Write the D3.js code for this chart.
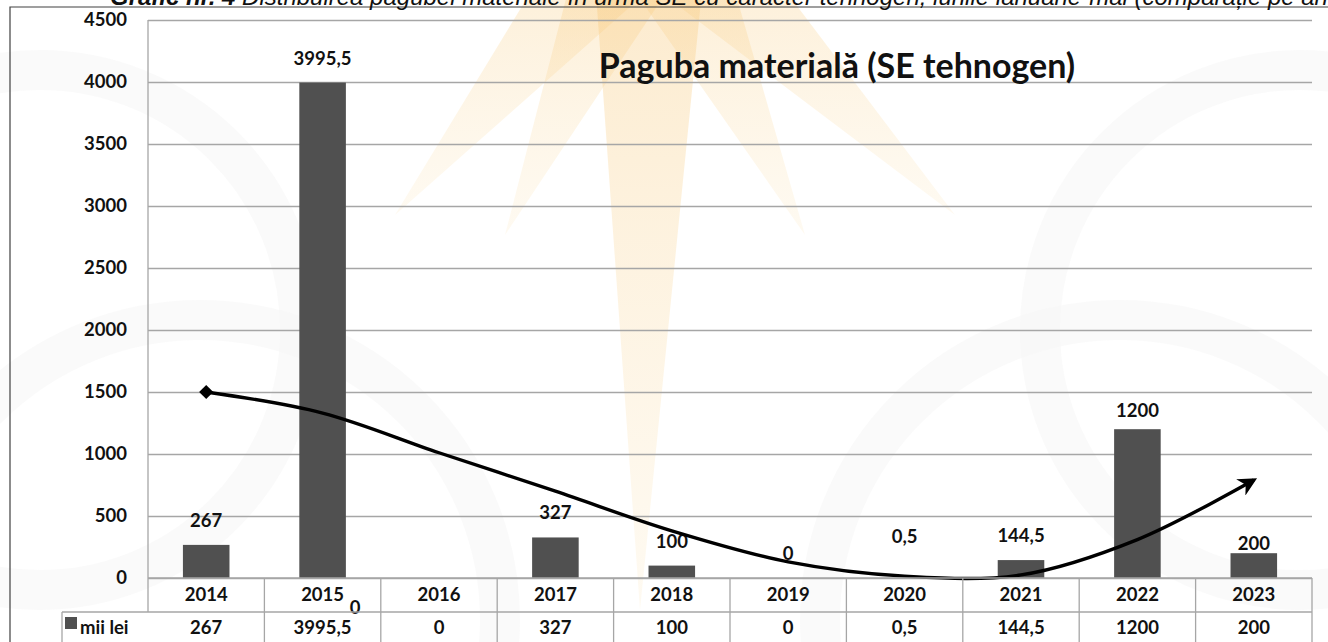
<!DOCTYPE html>
<html>
<head>
<meta charset="utf-8">
<script src="https://cdn.jsdelivr.net/npm/d3@7"></script>
<style>
  body { margin: 0; background: #fff; }
  text { font-family: Lato, "Open Sans", sans-serif; }
</style>
</head>
<body>
<script>
// Chart data
var years = ["2014", "2015", "2016", "2017", "2018", "2019", "2020", "2021", "2022", "2023"];
var values = [267, 3995.5, 0, 327, 100, 0, 0.5, 144.5, 1200, 200];
var valueLabels = ["267", "3995,5", "0", "327", "100", "0", "0,5", "144,5", "1200", "200"];
var trendValues = [1500, 1330, 1010, 700, 380, 130, 15, 25, 310, 790];
var yTicks = [0, 500, 1000, 1500, 2000, 2500, 3000, 3500, 4000, 4500];
var seriesName = "mii lei";
var chartTitle = "Paguba materială (SE tehnogen)";

var width = 1328,
    height = 642;
var fontSize = "18.5px";

var svg = d3.select("body")
    .append("svg")
    .attr("width", width)
    .attr("height", height);

var defs = svg.append("defs");

// Watermark gradient
var grad = defs.append("linearGradient")
    .attr("id", "rayGrad")
    .attr("x1", 0).attr("y1", 0).attr("x2", 0).attr("y2", 1);
grad.append("stop").attr("offset", "0%").attr("stop-color", "#f7c36e").attr("stop-opacity", 0.38);
grad.append("stop").attr("offset", "100%").attr("stop-color", "#fbe3b4").attr("stop-opacity", 0.18);

// Background watermark (sun rays)
var center = [650, -90];
var rayTips = [[395, 215], [505, 235], [640, 610], [805, 235], [955, 215]];
var wm = svg.append("g").attr("class", "watermark");
rayTips.forEach(function(t) {
    var dx = t[0] - center[0], dy = t[1] - center[1];
    var len = Math.sqrt(dx * dx + dy * dy);
    var nx = -dy / len, ny = dx / len;
    var w = 60;
    var pts = [[center[0] + nx * w, center[1] + ny * w], t, [center[0] - nx * w, center[1] - ny * w]];
    wm.append("path")
        .attr("d", d3.line()(pts) + "Z")
        .attr("fill", "url(#rayGrad)");
});
// faint grey swirls on the sides
[[40, 330, 260], [1300, 330, 260], [200, 620, 300], [1120, 620, 300]].forEach(function(c) {
    wm.append("circle")
        .attr("cx", c[0]).attr("cy", c[1]).attr("r", c[2])
        .attr("fill", "none")
        .attr("stroke", "#f7f7f7")
        .attr("stroke-width", 40)
        .attr("opacity", 0.6);
});

// Outer frame
svg.append("path")
    .attr("d", "M10,642 V7 H1328")
    .attr("fill", "none")
    .attr("stroke", "#404040")
    .attr("stroke-width", 1.2);

// Caption (cut off at top)
var cap = svg.append("text")
    .attr("x", 110)
    .attr("y", 5)
    .style("font-family", "'Liberation Sans', Arial, sans-serif")
    .style("font-size", "24px")
    .style("font-style", "italic")
    .attr("fill", "#111");
cap.append("tspan").style("font-weight", "bold").text("Grafic nr. 4 ");
cap.append("tspan").text("Distribuirea pagubei materiale în urma SE cu caracter tehnogen, lunile ianuarie-mai (comparație pe ani)");

// Scales
var plotLeft = 148, plotRight = 1312, plotTop = 20, plotBottom = 578;

var x = d3.scaleBand()
    .domain(years)
    .range([plotLeft, plotRight])
    .paddingInner(0.6)
    .paddingOuter(0.3);

var y = d3.scaleLinear()
    .domain([0, 4500])
    .range([plotBottom, plotTop]);

var step = x.step();
function cx(d) { return x(d) + x.bandwidth() / 2; }

// Gridlines
svg.append("g")
    .attr("class", "grid")
    .attr("transform", "translate(" + plotLeft + ",0)")
    .call(d3.axisLeft(y).tickValues(yTicks).tickSize(-(plotRight - plotLeft)).tickFormat(""))
    .call(function(g) { g.select(".domain").remove(); })
    .call(function(g) { g.selectAll("line").attr("stroke", "#a6a6a6").attr("stroke-width", 1.3); });

// Plot left border
svg.append("line")
    .attr("x1", plotLeft).attr("x2", plotLeft)
    .attr("y1", plotTop).attr("y2", plotBottom + 34)
    .attr("stroke", "#a6a6a6").attr("stroke-width", 1.3);

// Y axis labels
svg.append("g")
    .attr("transform", "translate(" + plotLeft + ",0)")
    .call(d3.axisLeft(y).tickValues(yTicks).tickSize(0).tickPadding(21).tickFormat(d3.format("d")))
    .call(function(g) { g.select(".domain").remove(); })
    .call(function(g) {
        g.selectAll("text")
            .style("font-family", "Lato, sans-serif")
            .style("font-size", fontSize)
            .style("font-weight", "bold")
            .attr("fill", "#111");
    });

// Title
svg.append("text")
    .attr("x", 837)
    .attr("y", 78)
    .attr("text-anchor", "middle")
    .style("font-size", "34px")
    .style("font-weight", "bold")
    .attr("fill", "#111")
    .text(chartTitle);

// Bars
svg.selectAll(".bar")
    .data(years)
    .enter()
    .append("rect")
    .attr("class", "bar")
    .attr("x", function(d) { return x(d); })
    .attr("width", x.bandwidth())
    .attr("y", function(d, i) { return y(values[i]); })
    .attr("height", function(d, i) { return y(0) - y(values[i]); })
    .attr("fill", "#505050");

// Data labels (some were moved by hand in the original)
var labelShift = { "2016": [-84, 36], "2020": [0, -35], "2022": [0, -12], "2023": [0, -3] };
svg.selectAll(".vlabel")
    .data(years)
    .enter()
    .append("text")
    .attr("class", "vlabel")
    .attr("x", function(d) { return cx(d) + (labelShift[d] ? labelShift[d][0] : 0); })
    .attr("y", function(d, i) { return y(values[i]) + (labelShift[d] ? labelShift[d][1] : -18); })
    .attr("text-anchor", "middle")
    .style("font-size", fontSize)
    .style("font-weight", "bold")
    .attr("fill", "#111")
    .text(function(d, i) { return valueLabels[i]; });

// Trend curve with diamond start and arrow end
defs.append("marker")
    .attr("id", "arrow")
    .attr("viewBox", "0 0 10 10")
    .attr("refX", 8).attr("refY", 5)
    .attr("markerWidth", 5.5).attr("markerHeight", 5.5)
    .attr("orient", "auto")
    .append("path")
    .attr("d", "M0,0 L10,5 L0,10 L3,5 Z")
    .attr("fill", "#000");

var trendLine = d3.line()
    .x(function(d, i) { return cx(years[i]); })
    .y(function(d) { return y(d); })
    .curve(d3.curveCatmullRom.alpha(0.5));

svg.append("path")
    .datum(trendValues)
    .attr("d", trendLine)
    .attr("fill", "none")
    .attr("stroke", "#000")
    .attr("stroke-width", 3.4)
    .attr("marker-end", "url(#arrow)");

svg.append("rect")
    .attr("x", -5).attr("y", -5)
    .attr("width", 10).attr("height", 10)
    .attr("transform", "translate(" + cx(years[0]) + "," + y(trendValues[0]) + ") rotate(45)")
    .attr("fill", "#000");

// Data table
var rowTop = plotBottom, rowMid = plotBottom + 34, rowBottom = height;
var legendLeft = 62;
var table = svg.append("g").attr("class", "table");
var lineColor = "#a6a6a6";

table.append("line")
    .attr("x1", plotLeft).attr("x2", plotRight)
    .attr("y1", rowTop).attr("y2", rowTop)
    .attr("stroke", lineColor).attr("stroke-width", 1.3);
table.append("line")
    .attr("x1", legendLeft).attr("x2", plotRight)
    .attr("y1", rowMid).attr("y2", rowMid)
    .attr("stroke", lineColor).attr("stroke-width", 1.3);
table.append("line")
    .attr("x1", legendLeft).attr("x2", legendLeft)
    .attr("y1", rowMid).attr("y2", rowBottom)
    .attr("stroke", lineColor).attr("stroke-width", 1.3);

table.selectAll(".vsep")
    .data(years)
    .enter()
    .append("line")
    .attr("class", "vsep")
    .attr("x1", function(d) { return cx(d) + step / 2; })
    .attr("x2", function(d) { return cx(d) + step / 2; })
    .attr("y1", rowTop).attr("y2", rowBottom)
    .attr("stroke", lineColor).attr("stroke-width", 1.3);

table.selectAll(".cat")
    .data(years)
    .enter()
    .append("text")
    .attr("class", "cat")
    .attr("x", cx)
    .attr("y", rowTop + 23)
    .attr("text-anchor", "middle")
    .style("font-size", fontSize)
    .style("font-weight", "bold")
    .attr("fill", "#111")
    .text(function(d) { return d; });

table.selectAll(".val")
    .data(years)
    .enter()
    .append("text")
    .attr("class", "val")
    .attr("x", cx)
    .attr("y", rowMid + 22)
    .attr("text-anchor", "middle")
    .style("font-size", fontSize)
    .style("font-weight", "bold")
    .attr("fill", "#111")
    .text(function(d, i) { return valueLabels[i]; });

// Legend key
table.append("rect")
    .attr("x", 65).attr("y", 617)
    .attr("width", 12).attr("height", 12)
    .attr("fill", "#505050");
table.append("text")
    .attr("x", 80)
    .attr("y", rowMid + 22)
    .style("font-size", fontSize)
    .style("font-weight", "bold")
    .attr("fill", "#111")
    .text(seriesName);
</script>
</body>
</html>
